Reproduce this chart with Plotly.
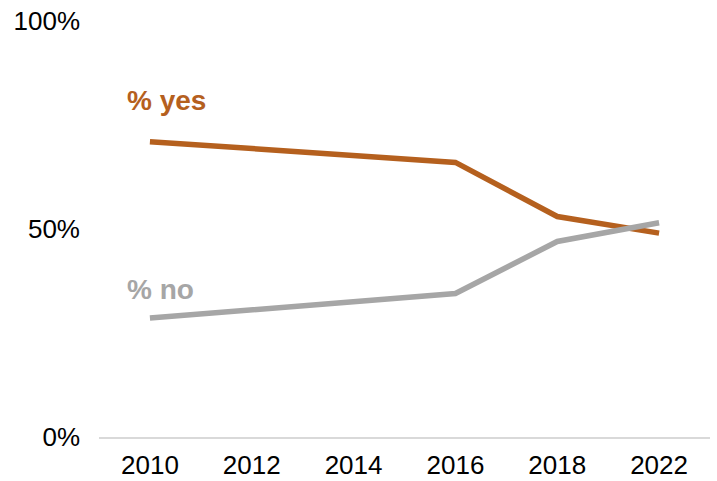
import plotly.graph_objects as go

years = ["2010", "2012", "2014", "2016", "2018", "2022"]
yes_vals = [0.71, None, None, 0.66, 0.53, 0.49]
no_vals = [0.286, None, None, 0.345, 0.47, 0.515]
y_ticks = [0, 0.5, 1]
y_tick_text = ["0%", "50%", "100%"]

YES_COLOR = "#B5601E"
NO_COLOR = "#A6A6A6"
FONT = "Liberation Sans, Arial, sans-serif"

fig = go.Figure()
fig.add_trace(go.Scatter(x=years, y=yes_vals, mode="lines", connectgaps=True,
                         line=dict(color=YES_COLOR, width=5.5), name="% yes",
                         hoverinfo="skip"))
fig.add_trace(go.Scatter(x=years, y=no_vals, mode="lines", connectgaps=True,
                         line=dict(color=NO_COLOR, width=5.5), name="% no",
                         hoverinfo="skip"))

fig.add_annotation(x=0, y=0.81, xref="x", yref="y", text="<b>% yes</b>",
                   showarrow=False, xanchor="left", yanchor="middle", xshift=-25,
                   font=dict(family=FONT, size=28, color=YES_COLOR))
fig.add_annotation(x=0, y=0.354, xref="x", yref="y", text="<b>% no</b>",
                   showarrow=False, xanchor="left", yanchor="middle", xshift=-25,
                   font=dict(family=FONT, size=28, color=NO_COLOR))

fig.update_layout(
    width=717, height=481,
    margin=dict(l=99, r=7, t=21, b=44, autoexpand=False),
    paper_bgcolor="white", plot_bgcolor="white",
    showlegend=False,
    font=dict(family=FONT, size=26, color="#000000"),
    xaxis=dict(type="category", categoryorder="array", categoryarray=years,
               range=[-0.5, 5.5], showgrid=False, zeroline=False,
               showline=True, linecolor="#D9D9D9", linewidth=2,
               ticks="", ticklabelstandoff=4, automargin=False,
               ticklabeloverflow="allow",
               tickfont=dict(family=FONT, size=26, color="#000000")),
    yaxis=dict(range=[0, 1], tickvals=y_ticks, ticktext=y_tick_text,
               showgrid=False, zeroline=False, showline=False,
               ticks="", ticklabelstandoff=18, automargin=False,
               ticklabeloverflow="allow",
               tickfont=dict(family=FONT, size=26, color="#000000")),
)

fig.write_html(
    "out.html",
    config={"displayModeBar": False},
    post_script="document.body.style.margin='0';document.body.style.padding='0';",
)
